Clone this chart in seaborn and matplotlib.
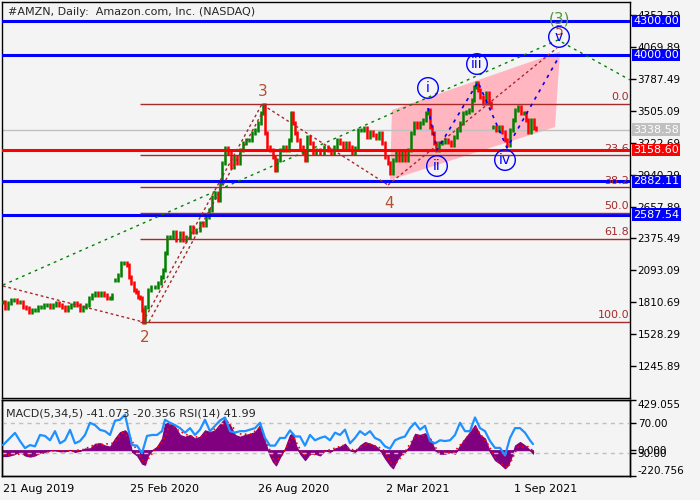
import numpy as np
import pandas as pd
import matplotlib
matplotlib.use("Agg")
import matplotlib.pyplot as plt
import seaborn as sns

# candles: bar index counted from 21 Aug 2019, close price (nan = gap in data)
bar_idx = [0, 2, 5, 8, 11, 14, 17, 20, 23, 26, 29, 32, 35, 38, 41, 44, 47, 50, 53, 56,
           59, 62, 65, 68, 71, 74, 77, 80, 83, 86, 89, 92, 95, 98, 101, 104, 107, 109, 111, 112,
           115, 118, 121, 124, 126, 128, 131, 133, 135, 137, 139, 140, 142, 145, 148, 152, 155, 158, 160, 162,
           164, 167, 170, 173, 177, 180, 183, 187, 190, 193, 197, 200, 203, 206, 209, 212, 215, 217, 219, 222,
           225, 228, 231, 234, 237, 240, 243, 246, 249, 252, 255, 258, 260, 262, 264, 267, 270, 272, 274, 277,
           280, 283, 286, 288, 290, 292, 294, 297, 300, 302, 304, 307, 310, 313, 317, 321, 325, 328, 331, 334,
           337, 340, 343, 346, 349, 352, 355, 358, 361, 364, 367, 370, 373, 376, 379, 382, 385, 387, 390, 393,
           396, 399, 402, 405, 408, 411, 414, 417, 420, 423, 425, 427, 429, 431, 433, 436, 439, 442, 445, 448,
           451, 454, 457, 460, 463, 466, 469, 471, 473, 475, 477, 480, 483, 486, 488, 489, 490, 493, 496, 499,
           502, 504, 507, 510, 512, 515, 518, 521, 523, 525, 528, 531, 533]
close = [1813, 1760, 1804, 1830, 1830, 1813, 1813, 1768, 1760, 1724, 1742, 1742, 1768, 1768, 1786, 1786, 1768, 1786, 1804, 1786,
         1768, 1742, 1768, 1786, 1804, 1786, 1742, 1768, 1786, 1848, 1875, 1892, 1875, 1892, 1875, 1848, 1848, 1875, np.nan, 2008,
         2052, 2158, 2158, 2140, 2034, 1981, 1919, 1901, 1857, 1848, 1742, 1636, 1768, 1919, 1946, 1946, 1981, 2034, 2096, 2247,
         2388, 2388, 2433, 2362, 2424, 2362, 2388, 2477, 2433, 2450, 2512, 2495, 2565, 2628, 2743, 2778, 2716, 2867, 3044, 3177,
         3132, 3008, 3097, 3044, 3159, 3221, 3247, 3247, 3309, 3336, 3398, 3487, 3557, 3309, 3185, 3159, 3097, 2982, 3070, 3159,
         3185, 3159, 3247, 3487, 3398, 3309, 3247, 3185, 3132, 3070, 3274, 3221, 3132, 3159, 3132, 3185, 3159, 3132, 3185, 3247,
         3221, 3185, 3221, 3185, 3132, 3177, 3336, 3336, 3354, 3274, 3318, 3292, 3265, 3309, 3221, 3097, 3044, 2955, 3070, 3132,
         3070, 3132, 3070, 3159, 3309, 3398, 3363, 3398, 3425, 3487, 3513, 3363, 3309, 3221, 3159, 3221, 3230, 3247, 3230, 3203,
         3274, 3336, 3398, 3487, 3495, 3513, 3602, 3717, 3752, 3690, 3628, 3575, 3664, 3575, 3540, np.nan, 3363, 3336, 3363, 3318,
         3247, 3203, 3336, 3425, 3513, 3540, 3487, 3487, 3425, 3318, 3425, 3354, 3339]

# MACD histogram
macd_bars = [0, 4, 7, 12, 17, 22, 27, 32, 37, 42, 47, 52, 57, 62, 67, 72, 77, 82, 87, 92,
             97, 102, 107, 112, 117, 122, 125, 129, 134, 139, 142, 145, 149, 154, 159, 162, 167, 172, 177, 182,
             187, 192, 197, 202, 207, 212, 217, 222, 227, 232, 237, 242, 247, 252, 257, 262, 267, 270, 273, 277,
             282, 287, 290, 293, 297, 302, 307, 312, 317, 322, 327, 332, 337, 342, 347, 352, 357, 362, 367, 372,
             377, 382, 387, 390, 394, 397, 402, 407, 412, 417, 422, 427, 432, 437, 442, 447, 452, 457, 462, 467,
             472, 477, 482, 487, 492, 497, 502, 505, 509, 512, 517, 522, 527, 530]
macd_vals = [-50, -50, -45, -30, -15, -45, -55, -45, -20, -15, 0, 0, -10, -10, 3, -15, -5, 15, 15, 55,
             60, 40, 30, 100, 155, 170, 140, -15, -45, -115, -125, -45, 0, 30, 100, 225, 240, 200, 130, 115,
             130, 100, 115, 170, 155, 170, 225, 270, 215, 130, 115, 130, 140, 155, 215, 70, -50, -100, -130, -60,
             15, 130, 145, 40, -30, -85, -30, -30, -45, 0, -15, 15, 30, 55, 0, -15, 40, 70, 55, 40,
             0, -70, -130, -155, -85, -45, -15, 40, 140, 130, 145, 100, 0, -30, -30, -15, -30, 40, 100, 155,
             215, 130, 100, -15, -85, -115, -155, -130, -45, 40, 70, 40, 0, -30]

# MACD signal (red dotted)
signal_bars = [0, 10, 20, 30, 40, 50, 60, 70, 80, 90, 100, 110, 120, 128, 135, 142, 150, 160, 167, 177,
               187, 197, 207, 217, 225, 235, 247, 257, 265, 272, 280, 290, 300, 310, 322, 340, 352, 365, 380, 390,
               400, 412, 425, 435, 450, 462, 472, 485, 495, 505, 515, 525, 532]
signal_vals = [-40, -40, -30, -45, -25, -5, -8, -5, 5, 40, 50, 60, 150, 100, -30, -110, -20, 80, 220, 160,
               120, 110, 160, 200, 250, 140, 135, 190, 40, -110, -30, 120, -40, -40, -10, 40, -5, 60, 10, -140,
               -40, 120, 130, -10, -25, 90, 200, 50, -100, -150, 30, 30, -20]

# RSI(14)
rsi_bars = [0, 7, 12, 17, 22, 27, 32, 37, 42, 47, 52, 57, 62, 67, 72, 77, 82, 87, 92, 97,
            102, 107, 112, 117, 122, 125, 129, 134, 139, 144, 149, 154, 159, 162, 167, 172, 177, 182, 187, 192,
            197, 202, 207, 212, 217, 222, 227, 232, 237, 242, 247, 252, 257, 262, 267, 272, 277, 282, 287, 292,
            297, 302, 307, 312, 317, 322, 327, 332, 337, 342, 347, 352, 357, 362, 367, 372, 377, 382, 387, 392,
            397, 402, 407, 412, 417, 422, 427, 432, 437, 442, 447, 452, 457, 462, 467, 472, 477, 482, 487, 492,
            497, 502, 507, 512, 517, 522, 527, 530]
rsi_vals = [40.7, 50, 56.7, 46, 36.7, 40.7, 39, 54, 52.7, 47, 59, 43, 47, 60.7, 43, 46, 54, 70, 67, 60.7,
            59, 54, 72.7, 74, 80.7, 63.3, 40.7, 40, 30, 52.7, 54, 54, 59, 74, 70, 67, 63, 57, 63, 54,
            61, 74, 59, 66, 73, 77, 59, 57, 59, 59, 61, 63, 70, 50, 40, 40, 50, 50, 60, 52,
            52, 40, 54, 47, 50, 52, 47, 57, 54, 61, 43, 50, 59, 54, 59, 50, 47, 39, 36, 47,
            50, 52, 63, 70, 61, 66, 46, 43, 47, 46, 47, 54, 70, 59, 59, 77, 63, 59, 46, 37,
            37, 27, 50, 63, 63, 57, 47, 41.99]

# horizontal levels
blue_levels = [4300.00, 4000.00, 2882.11, 2587.54]
red_level = 3158.60
last_price = 3338.58
fib_top, fib_bottom, fib_start = 3566, 1636, 137
fib_ratios = [0.0, 23.6, 38.2, 50.0, 61.8, 100.0]

price_ticks = [4352.29, 4069.89, 3787.49, 3505.09, 3222.69, 2940.29,
               2657.89, 2375.49, 2093.09, 1810.69, 1528.29, 1245.89]
date_bars = [0, 127, 255, 383, 511]
date_labels = ["21 Aug 2019", "25 Feb 2020", "26 Aug 2020", "2 Mar 2021", "1 Sep 2021"]

# wave markup (bar, price)
green_path = ([0, 555, 627], [1963, 4133, 3779])
brown_paths = [([0, 140], [1954, 1636]),
               ([140, 259], [1636, 3566]),
               ([146, 259], [1636, 3486]),
               ([260, 385], [3557, 2849]),
               ([385, 554], [2849, 4062])]
blue_path = ([425, 434, 475, 504, 557], [3530, 3159, 3761, 3177, 4000])
channel = ([387, 389, 557, 552], [2893, 3513, 4030, 3362])
wave_nums = ["3", "2", "4"]
wave_num_pos = ([260, 142, 386], [3681, 1494, 2689])
sub_waves = ["i", "ii", "iii", "iv", "v"]
sub_wave_pos = ([425, 434, 474, 502, 556], [3708, 3017, 3920, 3070, 4160])

sns.set_style("white")
plt.rcParams["font.family"] = ["DejaVu Sans"]
bg = "#F4F4F4"
brown = "#A52A2A"

fig = plt.figure(figsize=(7, 5), dpi=100, facecolor=bg)
ax = fig.add_axes([2 / 700, 0.204, 628 / 700, 0.792], facecolor=bg)
ax2 = fig.add_axes([2 / 700, 0.048, 628 / 700, 0.152], facecolor=bg)

# ---- main price panel
ax.fill(channel[0], channel[1], color="#FFB6C1", lw=0, zorder=1)

df = pd.DataFrame({"bar": bar_idx, "close": close})
df["open"] = df["close"].shift(1)
df["open"] = df["open"].fillna(df["close"])
df = df.dropna()
up = df["close"] >= df["open"]
lo = df[["open", "close"]].min(axis=1) - 14
hi = df[["open", "close"]].max(axis=1) + 14
ax.vlines(df["bar"][up], lo[up], hi[up], color="#008000", lw=1.8, zorder=3)
ax.vlines(df["bar"][~up], lo[~up], hi[~up], color="#FF0000", lw=1.8, zorder=3)

for v in blue_levels:
    ax.axhline(v, color="#0000FF", lw=2.2, zorder=4)
ax.axhline(red_level, color="#FF0000", lw=2.2, zorder=4)
ax.axhline(last_price, color="#C0C0C0", lw=1, zorder=2)

for r in fib_ratios:
    p = fib_top - (fib_top - fib_bottom) * r / 100
    ax.hlines(p, fib_start, 627, color=brown, lw=1, zorder=4)
    ax.text(626, p + 15, f"{r:.1f}", color=brown, ha="right", va="bottom", fontsize=8, zorder=5)

ax.plot(green_path[0], green_path[1], color="#008000", lw=1, ls=(0, (2, 3)), zorder=4)
for xs, ys in brown_paths:
    ax.plot(xs, ys, color=brown, lw=1, ls=(0, (2, 2)), zorder=4)
ax.plot(blue_path[0], blue_path[1], color="#0000FF", lw=1.2, ls=(0, (2, 3)), zorder=4)

for t, x, y in zip(wave_nums, *wave_num_pos):
    ax.text(x, y, t, color="#B5502E", fontsize=11, ha="center", va="center", zorder=6)
ax.text(557, 4315, "(3)", color="#4E9A2E", fontsize=11, ha="center", va="center", zorder=6)
ax.text(556, 4215, "5", color="#B5502E", fontsize=10, ha="center", va="center", zorder=6)
ax.scatter(sub_wave_pos[0], sub_wave_pos[1], s=220, facecolors="none",
           edgecolors="#0000FF", linewidths=1, zorder=6)
for t, x, y in zip(sub_waves, *sub_wave_pos):
    ax.text(x, y, t, color="#0000FF", fontsize=10, ha="center", va="center", zorder=7)

ax.set_xlim(-1, 627)
ax.set_ylim(962.5, 4469.5)
ax.set_xticks([])
ax.yaxis.tick_right()
ax.set_yticks(price_ticks)
ax.set_yticklabels([f"{t:.2f}" for t in price_ticks])
ax.tick_params(axis="y", direction="out", length=4, width=1, pad=1.5, labelsize=7.5, colors="black")

tr = ax.get_yaxis_transform()
boxes = [(v, "#0000FF") for v in blue_levels] + [(red_level, "#FF0000"), (last_price, "#C0C0C0")]
for v, c in boxes:
    ax.text(1.005, v, f"{v:.2f}", transform=tr, color="white", fontsize=8, ha="left", va="center",
            bbox=dict(boxstyle="square,pad=0.12", fc=c, ec="none"), clip_on=False, zorder=8)

fig.text(8 / 700, 1 - 12 / 500, "#AMZN, Daily:  Amazon.com, Inc. (NASDAQ)", fontsize=8, va="center")

# ---- MACD / RSI panel
ax2.fill_between(macd_bars, 0, macd_vals, color="#800080", lw=0.8, edgecolor="#800080", zorder=2)
sns.lineplot(x=signal_bars, y=signal_vals, ax=ax2, color="#FF0000", lw=1.2, ls=(0, (1, 2)), zorder=3)
ax2.set_xlim(-1, 627)
ax2.set_ylim(-220.756, 429.055)

ax3 = ax2.twinx()
ax3.axhline(70, color="#C0C0C0", lw=1, ls=(0, (3, 3)))
ax3.axhline(30, color="#C0C0C0", lw=1, ls=(0, (3, 3)))
sns.lineplot(x=rsi_bars, y=rsi_vals, ax=ax3, color="#1E90FF", lw=1.6, zorder=4)
ax3.set_ylim(0, 100)
ax3.set_xlim(-1, 627)

ax2.yaxis.tick_right()
ax2.set_yticks([429.055, 0, -220.756])
ax2.set_yticklabels(["429.055", "0.000", "-220.756"])
labs = ax2.get_yticklabels()
labs[0].set_va("top")
labs[2].set_va("bottom")
ax3.set_yticks([70, 30])
ax3.set_yticklabels(["70.00", "30.00"])
for a in (ax2, ax3):
    a.tick_params(axis="y", direction="out", length=4, width=1, pad=1.5, labelsize=7.5, colors="black")
    a.set_xlabel("")
    a.set_ylabel("")

ax2.set_xticks(date_bars)
ax2.set_xticklabels(date_labels, ha="left")
ax2.tick_params(axis="x", direction="out", length=5, width=1, pad=0.5, labelsize=8, colors="black")

fig.text(6 / 700, 1 - 413 / 500, "MACD(5,34,5) -41.073 -20.356 RSI(14) 41.99", fontsize=8, va="center")

for a in (ax, ax2, ax3):
    for s in a.spines.values():
        s.set_color("black")
        s.set_linewidth(1)
        s.set_visible(True)

fig.savefig("out.png", dpi=100, facecolor=bg)
